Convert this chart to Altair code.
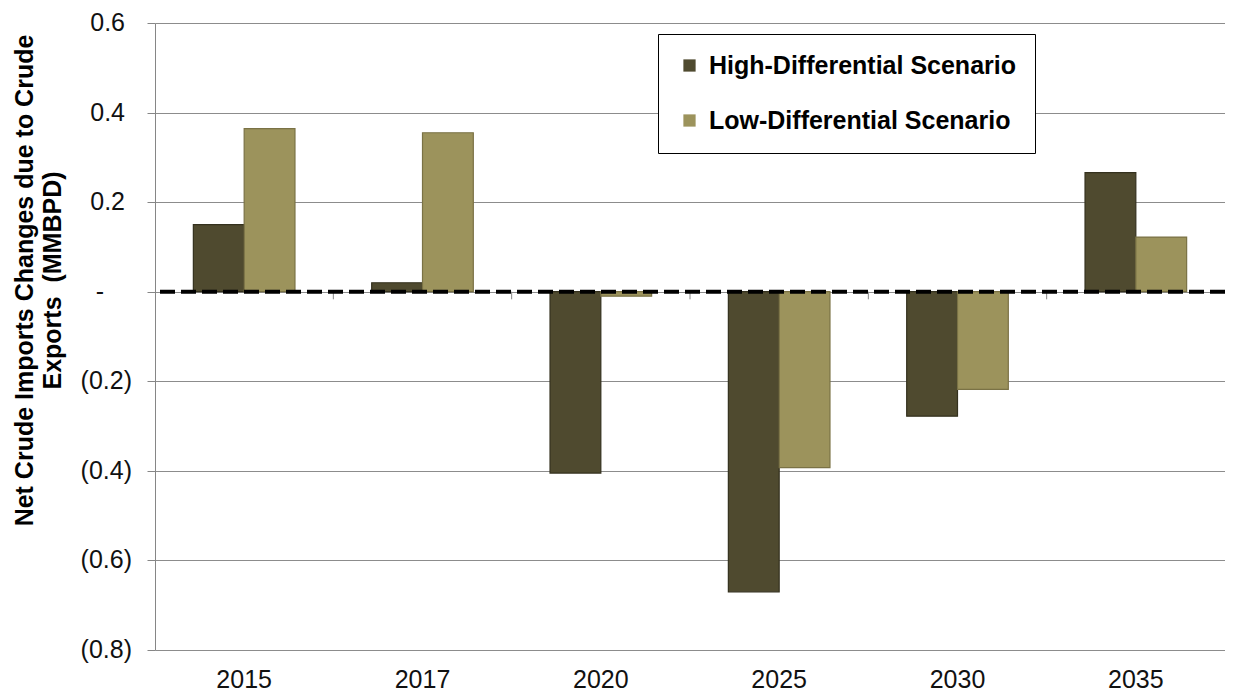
import altair as alt
import pandas as pd

years = ["2015", "2017", "2020", "2025", "2030", "2035"]
high = [0.15, 0.02, -0.405, -0.67, -0.278, 0.266]
low = [0.364, 0.355, -0.01, -0.393, -0.218, 0.122]
scenarios = ["High-Differential Scenario", "Low-Differential Scenario"]
fill_colors = ["#4F4A2F", "#9C935C"]
edge_colors = ["#34311E", "#7A7245"]
y_ticks = [0.6, 0.4, 0.2, 0, -0.2, -0.4, -0.6, -0.8]
boundaries = [1, 2, 3, 4, 5]
y_title = ["Net Crude Imports Changes due to Crude", "Exports\u00a0 (MMBPD)"]

rows = []
for i, yr in enumerate(years):
    rows.append({"year": yr, "scenario": scenarios[0], "value": high[i]})
    rows.append({"year": yr, "scenario": scenarios[1], "value": low[i]})
df = pd.DataFrame(rows)

FONT = "Liberation Sans, Arial, Helvetica, sans-serif"
label_calc = (
    "datum.value == 0 ? '-' : (datum.value < 0 ? '(' + format(-datum.value, '.1f') + ')' : format(datum.value, '.1f'))"
)

yscale = alt.Scale(domain=[-0.8, 0.6], nice=False)

bars = alt.Chart(df).mark_bar(strokeWidth=1.2).encode(
    x=alt.X(
        "year:N",
        sort=years,
        scale=alt.Scale(paddingInner=0, paddingOuter=0),
        axis=alt.Axis(
            title=None, labelAngle=0, ticks=False, tickSize=0, domain=False,
            labelPadding=17, labelFontSize=25, labelFont=FONT, labelColor="#111111",
            grid=False,
        ),
    ),
    xOffset=alt.XOffset("scenario:N", sort=scenarios,
                        scale=alt.Scale(paddingInner=0, paddingOuter=0.755)),
    y=alt.Y(
        "value:Q",
        scale=yscale,
        axis=alt.Axis(
            values=y_ticks, labels=False, title=y_title,
            domainColor="#868686", tickColor="#868686", tickSize=8,
            grid=True, gridColor="#8C8C8C", gridWidth=1,
            titleFont=FONT, titleFontSize=25, titleFontWeight="bold", titleColor="#000000",
            titleX=-123, titleY=257, titleLineHeight=28, titleBaseline="alphabetic",
            titleAlign="center",
        ),
    ),
    y2=alt.datum(0),
    color=alt.Color(
        "scenario:N",
        sort=scenarios,
        scale=alt.Scale(domain=scenarios, range=fill_colors),
        legend=alt.Legend(
            title=None, orient="none", legendX=503, legendY=11,
            strokeColor="#000000", fillColor="#FFFFFF", padding=19,
            symbolType="square", symbolSize=150, symbolStrokeWidth=0,
            labelFontSize=25, labelFontWeight="bold", labelFont=FONT,
            labelColor="#000000", rowPadding=29, labelOffset=7, labelLimit=600,
        ),
    ),
    stroke=alt.Stroke("scenario:N", sort=scenarios,
                      scale=alt.Scale(domain=scenarios, range=edge_colors), legend=None),
)

ticks = alt.Chart(pd.DataFrame({"b": boundaries})).mark_rule(
    color="#868686", strokeWidth=1
).encode(
    x=alt.X("b:Q", scale=alt.Scale(domain=[0, 6], nice=False, zero=False), axis=None),
    y=alt.datum(0),
    y2=alt.datum(-0.017),
)

zero_line = alt.Chart(pd.DataFrame({"v": [0]})).mark_rule(
    color="#000000", strokeWidth=4, strokeDash=[15, 6]
).encode(
    y=alt.datum(0),
)

# y tick labels in Excel accounting style: positives leave room for ")", zero is a dash
label_base = alt.Chart(pd.DataFrame({"value": y_ticks})).transform_calculate(
    lab=label_calc
).mark_text(
    align="right", baseline="middle", fontSize=25, font=FONT, color="#111111"
)
lab_neg = label_base.transform_filter("datum.value < 0").encode(
    y=alt.Y("value:Q"), text="lab:N", x=alt.value(-23)
)
lab_pos = label_base.transform_filter("datum.value > 0").encode(
    y=alt.Y("value:Q"), text="lab:N", x=alt.value(-30)
)
lab_zero = label_base.transform_filter("datum.value == 0").encode(
    y=alt.Y("value:Q"), text="lab:N", x=alt.value(-51)
)

chart = alt.layer(bars, ticks, zero_line, lab_neg, lab_pos, lab_zero).resolve_scale(
    x="independent"
).properties(
    width=1070,
    height=627,
    padding={"left": 147, "top": 15, "right": 0, "bottom": 46},
    autosize=alt.AutoSizeParams(type="none"),
    background="#FFFFFF",
).configure_view(stroke=None)

chart.save("out.html", embed_options={"renderer": "svg", "actions": False})
